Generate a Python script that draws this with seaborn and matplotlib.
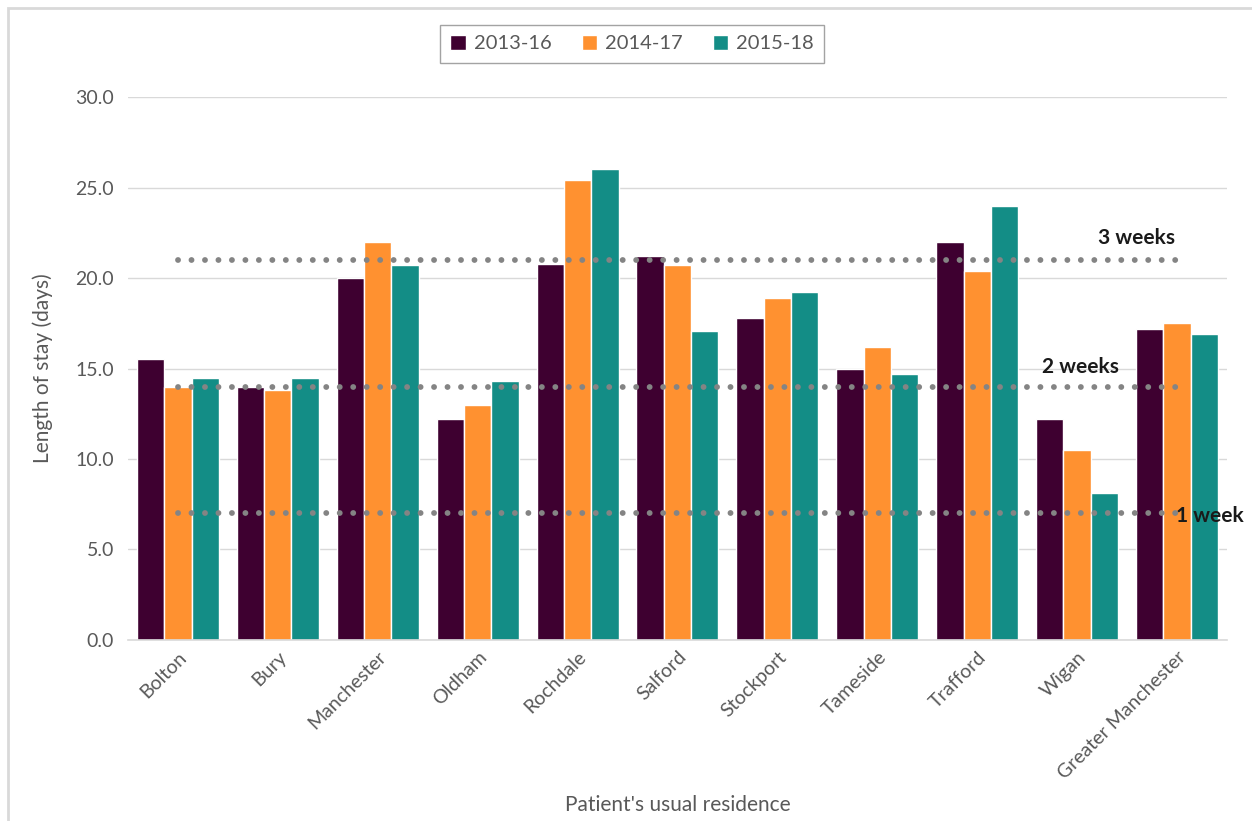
import matplotlib
matplotlib.use("Agg")
import matplotlib.pyplot as plt
from matplotlib.patches import Rectangle
from matplotlib.ticker import FormatStrFormatter
import seaborn as sns
import pandas as pd

# Average length of stay (days) by patient's usual residence
areas = ["Bolton", "Bury", "Manchester", "Oldham", "Rochdale", "Salford",
         "Stockport", "Tameside", "Trafford", "Wigan", "Greater Manchester"]
periods = ["2013-16", "2014-17", "2015-18"]
stay_2013_16 = [15.5, 14.0, 20.0, 12.2, 20.8, 21.2, 17.8, 15.0, 22.0, 12.2, 17.2]
stay_2014_17 = [14.0, 13.8, 22.0, 13.0, 25.4, 20.7, 18.9, 16.2, 20.4, 10.5, 17.5]
stay_2015_18 = [14.5, 14.5, 20.7, 14.3, 26.0, 17.1, 19.2, 14.7, 24.0, 8.1, 16.9]

# Reference durations (days)
week_marks = [21, 14, 7]
week_labels = ["3 weeks", "2 weeks", "1 week"]

colors = ["#3E0030", "#FF9130", "#138D86"]

df = pd.DataFrame({
    "area": areas * 3,
    "period": [periods[0]] * 11 + [periods[1]] * 11 + [periods[2]] * 11,
    "days": stay_2013_16 + stay_2014_17 + stay_2015_18,
})

sns.set_theme(style="white")
plt.rcParams["font.family"] = ["Lato", "DejaVu Sans"]
text_grey = "#595959"
grid_grey = "#D9D9D9"

fig = plt.figure(figsize=(12.52, 8.21), dpi=100)
ax = fig.add_axes([0.1022, 0.2205, 0.8778, 0.6613])

sns.barplot(data=df, x="area", y="days", hue="period", palette=colors,
            width=0.82, edgecolor="white", linewidth=1.0, saturation=1,
            ax=ax, zorder=2)

# Dotted week reference lines spanning first to last category
for val in week_marks:
    ax.plot(range(len(areas)), [val] * len(areas), linestyle=(0, (0.01, 2.3)),
            color="#848484", linewidth=4.2, dash_capstyle="round", zorder=3)

label_style = dict(fontsize=15, fontweight="bold", color="#1A1A1A",
                   va="center", ha="left", zorder=4)
ax.text(9.21, 22.2, week_labels[0], **label_style)
ax.text(8.65, 15.1, week_labels[1], **label_style)
ax.text(9.99, 6.85, week_labels[2], **label_style)

ax.set_ylim(0, 30)
ax.set_xlim(-0.5, len(areas) - 0.5)
ax.set_yticks([0, 5, 10, 15, 20, 25, 30])
ax.yaxis.set_major_formatter(FormatStrFormatter("%.1f"))
ax.yaxis.grid(True, color=grid_grey, linewidth=1.0, zorder=0)
ax.set_axisbelow(True)

for side in ["top", "right", "left"]:
    ax.spines[side].set_visible(False)
ax.spines["bottom"].set_color(grid_grey)
ax.spines["bottom"].set_linewidth(1.2)

ax.tick_params(axis="y", labelsize=14, labelcolor=text_grey, length=0, pad=10)
ax.tick_params(axis="x", labelsize=14, labelcolor=text_grey, length=0, pad=6)
plt.setp(ax.get_xticklabels(), rotation=45, ha="right", rotation_mode="anchor")

ax.set_xlabel("Patient's usual residence", fontsize=15, color=text_grey)
ax.xaxis.set_label_coords(0.5, -0.285)
ax.set_ylabel("Length of stay (days)", fontsize=15, color=text_grey, labelpad=16)

leg = ax.legend(loc="upper center", bbox_to_anchor=(632 / 1252, 1 - 25 / 821),
                bbox_transform=fig.transFigure, ncol=3,
                fontsize=14.5, frameon=True, fancybox=False, handlelength=0.75,
                handleheight=0.75, handletextpad=0.4, columnspacing=1.5,
                borderpad=0.5, borderaxespad=0)
leg.get_frame().set_edgecolor("#8C8C8C")
leg.get_frame().set_linewidth(1.0)
for t in leg.get_texts():
    t.set_color(text_grey)

# Light chart frame
fig.patches.append(Rectangle((8 / 1252, -0.05), 1.2, (813 / 821) + 0.05,
                             transform=fig.transFigure, fill=False,
                             edgecolor="#D9D9D9", linewidth=2))

fig.savefig("out.png", dpi=100, facecolor="white")
